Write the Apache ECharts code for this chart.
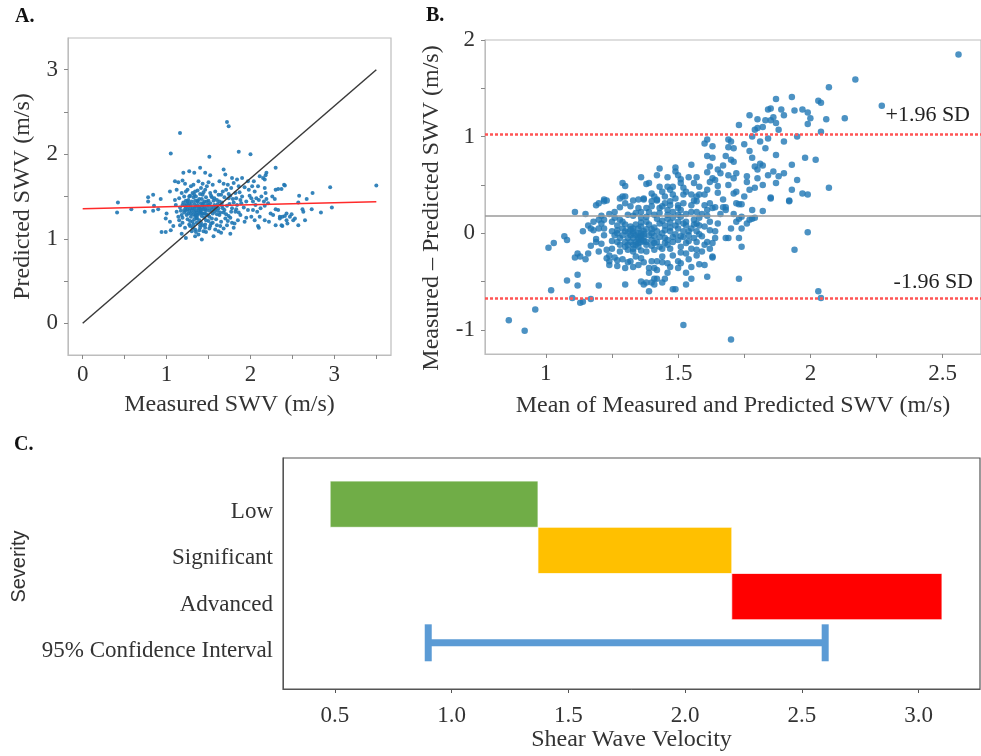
<!DOCTYPE html>
<html><head><meta charset="utf-8">
<script src="https://cdn.jsdelivr.net/npm/echarts@6/dist/echarts.min.js"></script>
<style>html,body{margin:0;padding:0;background:#fff}#c{width:981px;height:756px}</style>
</head><body><div id="c"></div>
<script>
// ---------- Panel A: Predicted vs Measured SWV ----------
const panelA_points = [
[1.72,2.38],[1.74,2.33],[1.16,2.25],[1.05,2.01],[1.51,1.97],[1.86,2.03],[2.00,2.00],[1.40,1.84],
[1.20,1.78],[1.27,1.80],[1.33,1.78],[1.46,1.78],[1.52,1.75],[1.68,1.82],[1.70,1.76],[1.78,1.72],[1.84,1.70],[1.90,1.72],
[1.10,1.68],[1.14,1.67],[1.19,1.69],[1.22,1.65],[1.32,1.64],[1.38,1.68],[1.43,1.65],[1.50,1.67],[1.55,1.64],[1.63,1.68],[1.68,1.65],[1.73,1.64],[1.80,1.66],[1.86,1.62],
[1.04,1.56],[1.12,1.58],[1.18,1.54],[1.23,1.56],[1.28,1.51],[1.34,1.56],[1.40,1.53],[1.46,1.58],[1.52,1.54],[1.58,1.56],[1.65,1.52],[1.71,1.58],[1.76,1.51],[1.82,1.54],[1.90,1.50],
[0.78,1.49],[0.84,1.52],[0.93,1.47],[1.10,1.46],[1.15,1.48],[1.20,1.43],[1.26,1.46],[1.32,1.49],[1.37,1.44],[1.42,1.47],[1.48,1.44],[1.54,1.49],[1.60,1.46],[1.66,1.43],[1.74,1.48],[1.80,1.43],[1.88,1.46],
[0.42,1.43],[0.58,1.35],[0.78,1.44],[0.85,1.39],[0.90,1.35],[1.11,1.40],[1.16,1.37],[1.22,1.39],[1.28,1.36],[1.33,1.41],[1.39,1.38],[1.44,1.35],[1.50,1.40],[1.56,1.37],[1.61,1.41],[1.67,1.36],[1.72,1.39],[1.78,1.36],[1.84,1.40],[1.92,1.37],
[0.41,1.31],[0.74,1.32],[0.84,1.33],[1.00,1.30],[1.12,1.32],[1.18,1.28],[1.23,1.33],[1.29,1.30],[1.34,1.27],[1.40,1.32],[1.45,1.30],[1.51,1.26],[1.57,1.32],[1.63,1.28],[1.68,1.31],[1.74,1.27],[1.82,1.32],[1.88,1.28],
[0.99,1.24],[1.04,1.20],[1.14,1.26],[1.19,1.19],[1.25,1.23],[1.31,1.20],[1.36,1.24],[1.41,1.19],[1.47,1.22],[1.53,1.18],[1.59,1.23],[1.65,1.20],[1.70,1.24],[1.78,1.19],[1.85,1.22],
[1.08,1.15],[1.16,1.16],[1.22,1.13],[1.28,1.15],[1.34,1.11],[1.40,1.16],[1.46,1.13],[1.52,1.15],[1.58,1.11],[1.64,1.15],[1.72,1.16],[1.80,1.13],
[0.94,1.08],[0.99,1.08],[1.05,1.10],[1.18,1.06],[1.30,1.09],[1.38,1.05],[1.44,1.09],[1.56,1.03],[1.65,1.07],[1.76,1.06],
[1.23,1.01],[1.34,1.03],[1.42,0.99],
[1.25,1.35],[1.27,1.42],[1.30,1.33],[1.32,1.29],[1.35,1.38],[1.36,1.31],[1.38,1.34],[1.41,1.42],[1.43,1.30],[1.45,1.38],
[1.47,1.33],[1.49,1.28],[1.30,1.44],[1.33,1.36],[1.36,1.25],[1.39,1.22],[1.42,1.27],[1.26,1.30],[1.29,1.26],[1.34,1.45],
[1.37,1.40],[1.40,1.35],[1.44,1.42],[1.48,1.40],[1.51,1.33],[1.53,1.37],[1.55,1.30],[1.58,1.35],[1.60,1.29],[1.24,1.28],
[1.21,1.34],[1.19,1.40],[1.23,1.45],[1.27,1.50],[1.31,1.54],[1.35,1.50],[1.39,1.47],[1.43,1.52],[1.47,1.49],[1.50,1.45],
[1.28,1.21],[1.32,1.17],[1.36,1.19],[1.40,1.13],[1.46,1.17],[1.50,1.21],[1.54,1.24],[1.57,1.40],[1.62,1.36],[1.64,1.31],
[1.33,1.23],[1.37,1.28],[1.41,1.31],[1.45,1.25],[1.26,1.39],[1.24,1.41],[1.38,1.36],[1.35,1.33],[1.42,1.37],[1.46,1.35],
[1.21,1.31],[1.23,1.37],[1.25,1.44],[1.27,1.33],[1.29,1.40],[1.31,1.36],[1.33,1.32],[1.35,1.28],[1.37,1.45],[1.39,1.30],
[1.41,1.34],[1.43,1.40],[1.45,1.44],[1.47,1.29],[1.49,1.36],[1.52,1.42],[1.54,1.34],[1.56,1.45],[1.59,1.38],[1.61,1.33],
[1.63,1.44],[1.66,1.39],[1.69,1.34],[1.71,1.29],[1.75,1.41],[1.77,1.32],[1.79,1.47],[1.83,1.35],[1.86,1.31],[1.89,1.42],
[1.15,1.22],[1.17,1.33],[1.19,1.25],[1.21,1.50],[1.25,1.58],[1.29,1.62],[1.33,1.52],[1.37,1.57],[1.41,1.60],[1.44,1.55],
[1.48,1.62],[1.53,1.51],[1.57,1.48],[1.62,1.52],[1.67,1.56],[1.69,1.49],[1.74,1.53],[1.77,1.60],[1.83,1.48],[1.87,1.55],
[1.27,1.17],[1.31,1.13],[1.35,1.08],[1.39,1.10],[1.43,1.16],[1.47,1.08],[1.51,1.12],[1.55,1.19],[1.60,1.16],[1.62,1.09],
[1.68,1.12],[1.73,1.21],[1.76,1.25],[1.81,1.18],[1.95,1.25],[1.98,1.58],[2.02,1.62],[2.06,1.40],[2.12,1.36],[2.21,1.42],
[2.24,1.30],[2.26,1.50],[2.22,1.20],[2.27,1.28],[1.93,1.20],
[3.50,1.63],[2.95,1.61],[2.97,1.37],[2.84,1.31],[2.73,1.35],[2.74,1.54],[2.67,1.47],[2.58,1.51],[2.57,1.43],[2.62,1.35],
[2.63,1.32],[2.65,1.22],[2.57,1.16],[2.51,1.22],[2.47,1.26],[2.41,1.63],[2.37,1.59],[2.30,1.58],[2.30,1.84],[2.19,1.78],
[2.18,1.75],[2.15,1.72],[2.09,1.62],[2.17,1.60],[2.18,1.54],[2.13,1.50],[2.05,1.56],[2.01,1.48],[2.10,1.46],[2.19,1.47],
[2.16,1.44],[2.29,1.47],[2.33,1.34],[2.38,1.26],[2.35,1.24],[2.41,1.27],[2.43,1.22],[2.49,1.29],[2.53,1.24],[2.30,1.16],
[2.38,1.15],[2.44,1.18],[2.11,1.26],[2.17,1.22],[2.01,1.26],[2.05,1.22],[2.09,1.15],[2.10,1.13],[1.97,1.34],[2.03,1.34],
[2.08,1.32],[2.17,1.39],[1.95,1.44],[1.99,1.51],[2.03,1.44],[2.07,1.48],[1.93,1.61],[1.97,1.68],[2.04,1.68],[2.11,1.74],
[2.17,1.70],[2.33,1.59],[2.30,1.35],[2.35,1.26],[2.43,1.30],[2.37,1.16],[2.40,1.64]
];
const panelA_identity = [[0,0],[3.5,3]];
const panelA_fit = [[0,1.355],[3.5,1.437]];
const panelA_xTicks = [0,0.5,1,1.5,2,2.5,3,3.5];
const panelA_xLabels = [0,1,2,3];
const panelA_yTicks = [0,0.5,1,1.5,2,2.5,3];
const panelA_yLabels = [0,1,2,3];

// ---------- Panel B: Bland-Altman ----------
const panelB_points = [
[1.44,-0.30],[1.46,-0.31],[1.50,-0.29],[1.50,-0.36],[1.46,-0.41],[1.39,-0.41],[1.41,-0.36],[1.35,-0.33],[1.33,-0.35],[1.30,-0.36],
[1.27,-0.34],[1.24,-0.29],[1.24,-0.33],[1.24,-0.23],[1.27,-0.28],[1.32,-0.29],[1.36,-0.26],[1.40,-0.29],[1.42,-0.29],[1.44,-0.24],
[1.48,-0.23],[1.51,-0.20],[1.53,-0.21],[1.55,-0.16],[1.57,-0.17],[1.60,-0.12],[1.61,-0.09],[1.57,-0.09],[1.53,-0.10],[1.51,-0.14],
[1.47,-0.16],[1.44,-0.16],[1.41,-0.17],[1.38,-0.19],[1.36,-0.18],[1.33,-0.19],[1.31,-0.17],[1.28,-0.19],[1.25,-0.16],[1.23,-0.17],
[1.20,-0.19],[1.19,-0.09],[1.19,-0.06],[1.18,0.03],[1.17,0.05],[1.20,0.05],[1.22,0.05],[1.22,0.14],[1.25,0.12],[1.26,0.16],
[1.28,0.14],[1.31,0.19],[1.33,0.18],[1.36,0.16],[1.38,0.17],[1.41,0.19],[1.43,0.21],[1.46,0.19],[1.48,0.16],[1.51,0.17],
[1.53,0.12],[1.56,0.14],[1.58,0.16],[1.61,0.18],[1.63,0.26],[1.62,0.12],[1.60,0.07],[1.57,0.02],[1.55,0.05],[1.52,0.02],
[1.50,0.05],[1.47,0.02],[1.45,0.03],[1.42,0.02],[1.40,0.00],[1.37,0.02],[1.35,0.00],[1.32,-0.02],[1.30,0.02],[1.27,0.03],
[1.25,0.02],[1.22,-0.02],[1.21,0.10],[1.20,0.14],[1.19,0.29],[1.20,0.31],[1.22,0.33],[1.23,0.34],[1.28,0.36],[1.30,0.38],
[1.33,0.34],[1.37,0.36],[1.40,0.33],[1.42,0.34],[1.45,0.31],[1.47,0.33],[1.50,0.29],[1.52,0.31],[1.55,0.29],[1.57,0.33],
[1.60,0.29],[1.62,0.31],[1.32,0.28],[1.35,0.26],[1.38,0.26],[1.40,0.28],[1.43,0.26],[1.46,0.24],[1.51,0.24],[1.55,0.22],
[1.57,0.22],[1.61,0.24],
[1.33,-0.05],[1.35,-0.04],[1.36,-0.07],[1.34,-0.09],[1.35,-0.10],[1.36,-0.09],[1.32,-0.09],[1.33,-0.12],[1.31,-0.05],[1.30,-0.09],
[1.37,-0.04],[1.38,-0.09],[1.38,-0.12],[1.32,0.07],[1.33,0.05],[1.34,0.09],[1.35,0.05],[1.36,0.07],[1.30,0.09],[1.29,-0.02],
[1.28,-0.05],[1.27,-0.09],[1.40,-0.07],[1.41,-0.10],[1.43,-0.04],[1.45,-0.05],[1.46,-0.07],[1.48,-0.04],[1.50,-0.07],[1.52,-0.04],
[1.54,-0.02],[1.56,-0.05],[1.33,0.02],[1.36,0.00],
[1.34,-0.02],[1.35,-0.06],[1.36,-0.03],[1.37,-0.08],[1.34,-0.12],[1.33,0.00],[1.38,0.04],[1.39,-0.02],[1.31,0.01],[1.32,0.04],
[1.36,0.11],[1.39,0.09],[1.41,0.06],[1.43,0.10],[1.45,0.08],[1.47,0.11],[1.49,0.08],[1.44,0.13],[1.42,0.15],[1.46,0.15],
[1.50,0.12],[1.53,0.08],[1.29,0.12],[1.27,0.08],[1.26,-0.02],[1.28,-0.12],[1.30,-0.14],[1.40,-0.13],[1.43,-0.14],[1.46,-0.12],
[1.48,-0.09],[1.51,-0.03],[1.54,0.02],[1.58,0.08],[1.59,-0.03],[1.57,0.10],[1.48,0.22],[1.44,0.28],[1.47,0.29],[1.50,0.26],
[1.53,0.20],[1.39,0.22],[1.36,0.22],[1.34,0.21],
[1.25,-0.08],[1.27,0.00],[1.29,0.05],[1.31,-0.12],[1.33,-0.16],[1.35,-0.14],[1.37,-0.01],[1.38,0.12],[1.40,0.04],[1.41,-0.03],
[1.42,-0.09],[1.44,0.00],[1.45,-0.10],[1.47,0.06],[1.49,-0.01],[1.50,0.19],[1.52,0.10],[1.54,-0.08],[1.56,0.09],[1.58,-0.01],
[1.59,0.20],[1.62,0.03],[1.63,-0.10],[1.65,0.10],[1.66,0.20],[1.67,0.35],[1.65,0.42],[1.60,0.40],[1.56,0.34],[1.48,0.40],
[1.26,0.22],[1.28,0.27],[1.30,0.31],[1.24,0.20],[1.21,0.18],[1.18,0.12],[1.16,0.08],[1.14,0.02],[1.17,-0.13],[1.21,-0.11],
[1.23,-0.26],[1.26,-0.25],[1.29,-0.27],[1.31,-0.30],[1.34,-0.24],[1.37,-0.30],[1.39,-0.36],[1.42,-0.38],[1.47,-0.35],[1.51,-0.31],
[1.54,-0.27],[1.57,-0.23],[1.59,-0.19],[1.62,-0.16],[1.55,-0.35],
[1.70,0.05],[1.71,0.20],[1.75,0.38],[1.77,0.45],[1.82,0.50],[1.84,0.60],[1.90,0.62],[1.95,0.55],[1.66,0.62],[1.68,0.80],
[1.75,0.92],[1.77,0.85],[1.83,0.88],[1.90,0.95],[1.95,1.00],[1.86,1.20],[1.90,1.22],[1.78,1.00],[1.67,0.70],[1.70,0.95],
[0.86,-0.90],[0.92,-1.01],[0.96,-0.79],[1.02,-0.59],[1.01,-0.15],[1.03,-0.10],[1.07,-0.03],[1.08,-0.07],[1.08,-0.49],[1.12,-0.43],
[1.12,-0.54],[1.10,-0.67],[1.13,-0.72],[1.14,-0.71],[1.17,-0.68],[1.20,-0.54],[1.11,0.22],[1.15,0.20],[1.12,-0.21],[1.13,-0.24],
[1.15,-0.27],[1.11,-0.25],[1.16,-0.21],[1.30,-0.53],[1.52,-0.95],[1.39,-0.60],[1.37,-0.53],[1.38,-0.51],[1.40,-0.51],[1.41,-0.53],
[1.44,-0.51],[1.45,-0.47],[1.42,-0.47],[1.41,-0.47],[1.36,-0.50],[1.48,-0.58],[1.49,-0.58],[1.53,-0.53],[1.55,-0.47],[1.53,-0.41],
[1.61,-0.45],[1.58,-0.32],[1.60,-0.33],[1.63,-0.24],[1.63,-0.25],[1.64,-0.05],[1.64,0.02],[1.68,-0.05],[1.64,0.27],[1.67,0.27],
[1.68,0.24],
[1.61,0.97],[1.60,0.93],[1.63,0.90],[1.61,0.80],[1.63,0.78],[1.55,0.71],[1.62,0.69],[1.65,0.66],[1.61,0.63],[1.43,0.67],
[1.49,0.68],[1.49,0.64],[1.36,0.58],[1.42,0.60],[1.46,0.58],[1.50,0.60],[1.51,0.56],[1.54,0.58],[1.57,0.58],[1.56,0.52],
[1.58,0.48],[1.63,0.57],[1.64,0.55],[1.62,0.53],[1.65,0.49],[1.61,0.45],[1.29,0.52],[1.30,0.49],[1.38,0.51],[1.39,0.52],
[1.43,0.48],[1.44,0.43],[1.46,0.48],[1.47,0.45],[1.48,0.48],[1.51,0.52],[1.52,0.47],[1.53,0.43],[1.55,0.40],[1.58,0.40],
[1.29,0.38],[1.35,0.35],[1.37,0.35],[1.40,0.41],[1.41,0.38],[1.42,0.35],[1.45,0.38],[1.49,0.36],[1.52,0.40],[1.57,0.38],
[1.22,0.35],
[2.56,1.85],[2.17,1.59],[2.07,1.51],[2.03,1.37],[2.04,1.35],[1.93,1.41],[1.87,1.39],[1.85,1.29],[1.84,1.28],[1.89,1.28],
[1.94,1.27],[1.97,1.28],[1.99,1.25],[2.00,1.19],[1.99,1.13],[2.06,1.18],[2.13,1.19],[2.27,1.32],[1.77,1.22],[1.80,1.18],
[1.83,1.17],[1.85,1.17],[1.87,1.14],[1.73,1.12],[1.82,1.10],[1.80,1.09],[1.79,1.07],[1.88,1.07],[2.04,1.05],[1.69,0.97],
[1.84,0.98],[1.81,0.95],[1.69,0.89],[1.71,0.88],[1.78,0.78],[1.87,0.81],[1.98,0.78],[2.02,0.76],[1.70,0.76],[1.71,0.74],
[1.93,0.71],[1.79,0.69],[1.80,0.66],[1.82,0.70],[1.81,0.72],[1.69,0.60],[1.71,0.57],[1.72,0.62],[1.76,0.59],[1.76,0.53],
[1.80,0.57],[1.86,0.64],[1.88,0.59],[1.87,0.52],[1.69,0.50],[1.72,0.43],[1.71,0.41],[1.79,0.47],[1.93,0.45],[1.97,0.41],
[1.99,0.40],[2.07,0.47],[1.85,0.37],[1.92,0.34],
[1.68,0.27],[1.72,0.31],[1.73,0.30],[1.74,0.30],[1.85,0.36],[1.92,0.33],[1.78,0.24],[1.82,0.23],[1.74,0.17],[1.73,0.15],
[1.72,0.12],[1.76,0.10],[1.77,0.14],[1.78,0.15],[1.79,0.16],[1.74,0.05],[1.69,-0.05],[1.73,-0.05],[1.74,-0.14],[1.99,0.01],
[1.94,-0.17],[1.73,-0.47],[2.03,-0.60],[2.04,-0.67],[1.70,-1.10]
];
const panelB_mean = 0.18;
const panelB_upper = 1.025;
const panelB_lower = -0.665;
const panelB_xTicks = [1,1.25,1.5,1.75,2,2.25,2.5];
const panelB_xLabels = [1,1.5,2,2.5];
const panelB_yTicks = [-1,-0.5,0,0.5,1,1.5,2];
const panelB_yLabels = [-1,0,1,2];

// ---------- Panel C: severity ranges ----------
const panelC_categories = ['', '95% Confidence Interval', 'Advanced', 'Significant', 'Low', ''];
const severityLevels = ['Low', 'Significant', 'Advanced'];
const severityStart = [0.48, 1.37, 2.20];
const severityEnd = [1.37, 2.20, 3.10];
const ciLabel = '95% Confidence Interval';
const ciRange = [0.90, 2.60];
const panelC_xTicks = [0.5, 1.0, 1.5, 2.0, 2.5, 3.0];

const severityColors = ['#70AD47', '#FFC000', '#FF0000'];
const ciColor = '#5B9BD5';
const dotColor = '#1f77b4';
const SERIF = 'Liberation Serif';

const chart = echarts.init(document.getElementById('c'), null, {renderer: 'canvas'});

const tickText = {fontFamily: SERIF, fontSize: 23, color: '#333'};
const nameText = {fontFamily: SERIF, fontSize: 24, color: '#333'};
const letterStyle = {fontFamily: SERIF, fontWeight: 'bold', fontSize: 20, color: '#111'};

chart.setOption({
  animation: false,
  backgroundColor: '#fff',
  title: [
    {text: 'A.', left: 15, top: 7, padding: 0, textStyle: letterStyle},
    {text: 'B.', left: 426, top: 6, padding: 0, textStyle: letterStyle},
    {text: 'C.', left: 14, top: 435, padding: 0, textStyle: letterStyle}
  ],
  grid: [
    {left: 68, top: 38, width: 323, height: 317, show: true, borderColor: '#bdbdbd', borderWidth: 1.2, containLabel: false},
    {left: 485, top: 40, width: 503, height: 314, show: true, borderColor: '#bdbdbd', borderWidth: 1.2, containLabel: false},
    {left: 283, top: 458, width: 697, height: 231, show: true, borderColor: '#555', borderWidth: 1.2, containLabel: false}
  ],
  xAxis: [
    {gridIndex: 0, type: 'value', min: -0.175, max: 3.675,
     name: 'Measured SWV (m/s)', nameLocation: 'middle', nameGap: 38, nameTextStyle: nameText,
     axisLine: {show: true, onZero: false, lineStyle: {color: '#bdbdbd'}},
     axisTick: {show: true, customValues: panelA_xTicks, length: 4, lineStyle: {color: '#888'}},
     axisLabel: {customValues: panelA_xLabels, margin: 8, ...tickText},
     splitLine: {show: false}},
    {gridIndex: 1, type: 'value', min: 0.77, max: 2.645,
     name: 'Mean of Measured and Predicted SWV (m/s)', nameLocation: 'middle', nameGap: 40, nameTextStyle: nameText,
     axisLine: {show: true, onZero: false, lineStyle: {color: '#bdbdbd'}},
     axisTick: {show: true, customValues: panelB_xTicks, length: 4, lineStyle: {color: '#888'}},
     axisLabel: {customValues: panelB_xLabels, margin: 8, ...tickText},
     splitLine: {show: false}},
    {gridIndex: 2, type: 'value', min: 0.278, max: 3.263,
     name: 'Shear Wave Velocity', nameLocation: 'middle', nameGap: 39,
     nameTextStyle: {fontFamily: SERIF, fontSize: 24, color: '#333'},
     axisLine: {show: true, onZero: false, lineStyle: {color: '#555'}},
     axisTick: {show: true, customValues: panelC_xTicks, length: 4, lineStyle: {color: '#555'}},
     axisLabel: {customValues: panelC_xTicks, margin: 15, formatter: v => Number(v).toFixed(1),
                 fontFamily: SERIF, fontSize: 23, color: '#333'},
     splitLine: {show: false}}
  ],
  yAxis: [
    {gridIndex: 0, type: 'value', min: -0.375, max: 3.375,
     name: 'Predicted SWV (m/s)', nameLocation: 'middle', nameGap: 33, nameTextStyle: nameText,
     axisLine: {show: true, onZero: false, lineStyle: {color: '#bdbdbd'}},
     axisTick: {show: true, customValues: panelA_yTicks, length: 4, lineStyle: {color: '#888'}},
     axisLabel: {customValues: panelA_yLabels, margin: 10, ...tickText},
     splitLine: {show: false}},
    {gridIndex: 1, type: 'value', min: -1.25, max: 2.0,
     name: 'Measured – Predicted SWV (m/s)', nameLocation: 'middle', nameGap: 41,
     nameTextStyle: {...nameText, padding: [0, 22, 0, 0]},
     axisLine: {show: true, onZero: false, lineStyle: {color: '#bdbdbd'}},
     axisTick: {show: true, customValues: panelB_yTicks, length: 4, lineStyle: {color: '#888'}},
     axisLabel: {customValues: panelB_yLabels, margin: 10, ...tickText},
     splitLine: {show: false}},
    {gridIndex: 2, type: 'category', data: panelC_categories, boundaryGap: false,
     name: 'Severity', nameLocation: 'middle', nameGap: 254,
     nameTextStyle: {fontFamily: 'Liberation Sans', fontSize: 20, color: '#333', padding: [0, 0, 0, 14]},
     axisLine: {show: true, onZero: false, lineStyle: {color: '#555'}},
     axisTick: {show: false},
     axisLabel: {interval: 0, margin: 10, fontFamily: SERIF, fontSize: 23, color: '#333',
                 verticalAlign: 'top', lineHeight: 16},
     splitLine: {show: false}}
  ],
  series: [
    {type: 'scatter', xAxisIndex: 0, yAxisIndex: 0, data: panelA_points, symbolSize: 4,
     itemStyle: {color: dotColor, opacity: 0.9}, z: 2},
    {type: 'line', xAxisIndex: 0, yAxisIndex: 0, data: panelA_identity, showSymbol: false, symbol: 'none',
     lineStyle: {color: '#3a3a3a', width: 1.5}, z: 3},
    {type: 'line', xAxisIndex: 0, yAxisIndex: 0, data: panelA_fit, showSymbol: false, symbol: 'none',
     lineStyle: {color: '#ff2a2a', width: 1.5}, z: 3},
    {type: 'scatter', xAxisIndex: 1, yAxisIndex: 1, data: panelB_points, symbolSize: 6.5,
     itemStyle: {color: dotColor}, z: 3,
     markLine: {silent: true, symbol: 'none', animation: false,
       data: [
         {yAxis: panelB_mean, lineStyle: {color: '#9a9a9a', width: 1.5, type: 'solid'}, label: {show: false}},
         {yAxis: panelB_upper, lineStyle: {color: '#ff5555', width: 2.5, type: [3, 2]},
          label: {show: true, formatter: '+1.96 SD', position: 'insideEndTop', distance: 8, padding: [0, 3, 0, 0],
                  fontFamily: SERIF, fontSize: 22, color: '#222'}},
         {yAxis: panelB_lower, lineStyle: {color: '#ff5555', width: 2.5, type: [3, 2]},
          label: {show: true, formatter: '-1.96 SD', position: 'insideEndTop', distance: 5, padding: [0, 3, 0, 0],
                  fontFamily: SERIF, fontSize: 22, color: '#222'}}
       ]}},
    {type: 'custom', xAxisIndex: 2, yAxisIndex: 2,
     data: severityLevels.map((c, i) => [severityStart[i], severityEnd[i], c]),
     encode: {x: [0, 1], y: 2},
     renderItem: (params, api) => {
       const cat = api.value(2);
       const p0 = api.coord([api.value(0), cat]);
       const p1 = api.coord([api.value(1), cat]);
       const h = api.size([0, 1])[1];
       return {type: 'rect', shape: {x: p0[0], y: p0[1] - h / 2, width: p1[0] - p0[0], height: h},
               style: {fill: severityColors[params.dataIndex], stroke: 'rgba(255,255,255,0.7)', lineWidth: 1}};
     }},
    {type: 'custom', xAxisIndex: 2, yAxisIndex: 2,
     data: [[ciRange[0], ciRange[1], ciLabel]],
     encode: {x: [0, 1], y: 2},
     renderItem: (params, api) => {
       const cat = api.value(2);
       const p0 = api.coord([api.value(0), cat]);
       const p1 = api.coord([api.value(1), cat]);
       const h = api.size([0, 1])[1] * 0.8;
       const st = {stroke: ciColor, lineWidth: 7};
       return {type: 'group', children: [
         {type: 'line', shape: {x1: p0[0], y1: p0[1], x2: p1[0], y2: p1[1]}, style: st},
         {type: 'line', shape: {x1: p0[0], y1: p0[1] - h / 2, x2: p0[0], y2: p0[1] + h / 2}, style: st},
         {type: 'line', shape: {x1: p1[0], y1: p1[1] - h / 2, x2: p1[0], y2: p1[1] + h / 2}, style: st}
       ]};
     }}
  ]
});
</script></body></html>
